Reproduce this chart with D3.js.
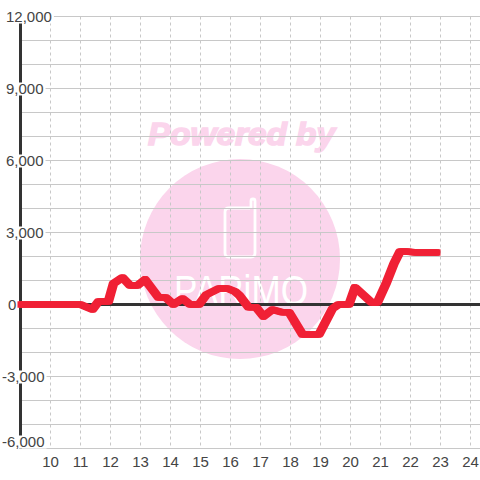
<!DOCTYPE html>
<html><head><meta charset="utf-8">
<script src="https://cdn.jsdelivr.net/npm/d3@7"></script>
<style>html,body{margin:0;padding:0;background:#fff}svg{display:block}text{font-family:"Liberation Sans",sans-serif}</style>
</head><body><svg id="c" width="480" height="480"></svg>
<script>
const xTicks=[10,11,12,13,14,15,16,17,18,19,20,21,22,23,24];
const yMajor=[12000,9000,6000,3000,0,-3000,-6000];
const yGrid=[12000,11000,10000,9000,8000,7000,6000,5000,4000,3000,2000,1000,0,-1000,-2000,-3000,-4000,-5000,-6000];
const times=[8.95,10,11,11.4,11.6,11.93,12.1,12.4,12.65,12.9,13.15,13.6,13.85,14.1,14.4,14.65,14.95,15.2,15.6,15.9,16.15,16.3,16.6,16.85,17.1,17.4,17.7,17.95,18.4,18.95,19.4,19.6,19.95,20.15,20.7,20.9,21.2,21.45,21.65,21.85,22.2,22.95];
const values=[0,0,0,-210,125,125,875,1125,790,790,1040,290,290,0,250,0,0,415,665,665,540,375,-110,-110,-500,-210,-320,-320,-1250,-1250,-170,0,0,710,85,85,915,1710,2210,2210,2170,2170];

const x=d3.scaleLinear().domain([9,24]).range([20.5,470.5]);
const y=d3.scaleLinear().domain([-6000,12000]).range([448.5,16.5]);
const svg=d3.select("#c");
const fmt=d3.format(",");

// watermark
const wm=svg.append("g");
wm.append("circle").attr("cx",240).attr("cy",259).attr("r",100).attr("fill","#fbd5ec");
wm.append("text").attr("x",148).attr("y",145)
  .attr("font-size",31).attr("font-weight","bold").attr("font-style","italic")
  .attr("textLength",187).attr("lengthAdjust","spacingAndGlyphs")
  .attr("fill","#fbd5ec").attr("stroke","#fbd5ec").attr("stroke-width",1.6).text("Powered by");
wm.append("path").attr("d","M250 208H229Q225 208 225 212V253Q225 257 229 257H251Q255 257 255 253V201Q255 199 253 199Q251 199 251 201V208")
  .attr("fill","none").attr("stroke","#fff").attr("stroke-width",2.8);
wm.append("text").attr("x",174).attr("y",305)
  .attr("font-size",43).attr("textLength",134).attr("lengthAdjust","spacingAndGlyphs")
  .attr("fill","#fff").text("PARiMO");

// grid
svg.append("g").selectAll("line").data(yGrid).join("line")
  .attr("x1",20).attr("x2",480).attr("y1",d=>y(d)).attr("y2",d=>y(d))
  .attr("stroke","#c8c8c8").attr("stroke-width",1);
svg.append("g").selectAll("line").data(xTicks).join("line")
  .attr("x1",d=>x(d)).attr("x2",d=>x(d)).attr("y1",y(12000)).attr("y2",y(-6000))
  .attr("stroke","#c8c8c8").attr("stroke-width",1).attr("stroke-dasharray","3,3");

// axes lines
svg.append("line").attr("x1",20.5).attr("x2",20.5).attr("y1",y(12000)).attr("y2",y(-6000))
  .attr("stroke","#333").attr("stroke-width",3);
svg.append("line").attr("x1",20).attr("x2",480).attr("y1",y(0)).attr("y2",y(0))
  .attr("stroke","#333").attr("stroke-width",3);

// y labels
const yl=svg.append("g").selectAll("g").data(yMajor).join("g");
yl.each(function(d){
  const g=d3.select(this);
  const cy=Math.min(y(d),441.5);
  const lx=d===0?8:(d<0?2:6);
  const t=g.append("text").attr("x",lx).attr("y",cy+5.5)
    .attr("font-size",15).attr("fill","#444").text(fmt(d).replace("−","-"));
  const b=t.node().getBBox();
  g.insert("rect","text").attr("x",b.x).attr("y",cy-6).attr("width",b.width+2).attr("height",13).attr("fill","#fff");
});

// series: brush is wider horizontally than vertically, as in the reference
const line=d3.line().x((d,i)=>x(times[i])).y(d=>y(d));
svg.append("g").selectAll("path").data([-1.5,0,1.5]).join("path")
  .attr("d",line(values)).attr("transform",d=>`translate(${d},0)`).attr("fill","none")
  .attr("stroke","#f02035").attr("stroke-width",6.5).attr("stroke-linejoin","round");

// x labels
svg.append("g").selectAll("text").data(xTicks).join("text")
  .attr("x",d=>x(d)).attr("y",466.5).attr("text-anchor","middle")
  .attr("font-size",15).attr("fill","#444").text(d=>d);
</script></body></html>
